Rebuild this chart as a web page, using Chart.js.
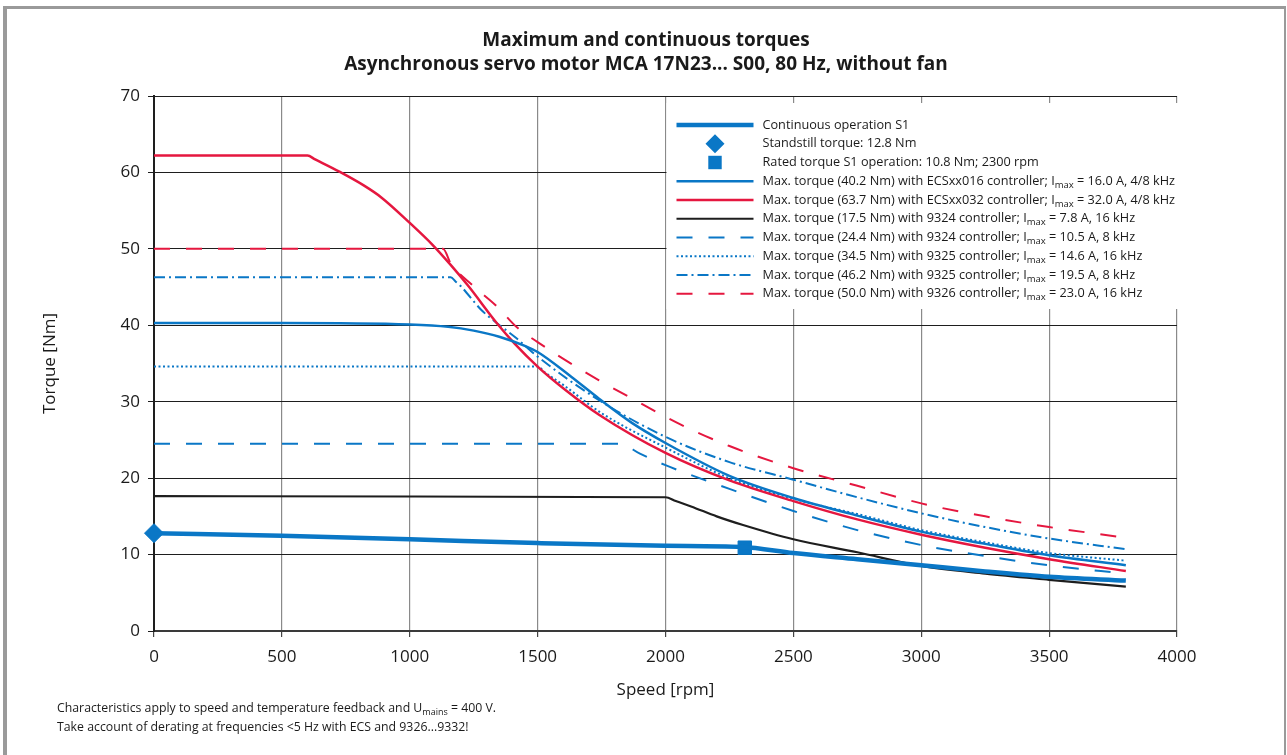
<!DOCTYPE html>
<html lang="en">
<head>
<meta charset="UTF-8"/>
<title>Maximum and continuous torques</title>
<script src="https://cdn.jsdelivr.net/npm/chart.js"></script>
<style>
  body { margin: 0; background: #fff; font-family: "Open Sans", Lato, sans-serif; color: #1a1a1a; }
  #page { position: relative; width: 1287px; height: 755px; overflow: hidden; }
  #frame { position: absolute; left: 3px; top: 6px; width: 1277px; height: 760px;
           border-top: 3px solid #9a9a9a; border-left: 4px solid #9a9a9a; border-right: 2px solid #9a9a9a; }
  #chartBox { position: absolute; left: 0; top: 0; width: 1287px; height: 755px; }
  #title { position: absolute; left: 0; top: 27px; width: 1292px; text-align: center;
           font-weight: bold; font-size: 19px; line-height: 24px; }
  #notes { position: absolute; left: 57px; top: 698px; font-size: 12.3px; line-height: 19px; }
  #notes sub { font-size: 9px; vertical-align: -3px; line-height: 0; }
</style>
<script>
  // speed [rpm] / torque [Nm]
  const rpmS1 = [0, 500, 1000, 1500, 2000, 2300, 2500, 2750, 3000, 3250, 3500, 3800];
  const torqueS1 = [12.8, 12.45, 12.0, 11.5, 11.15, 11.0, 10.2, 9.4, 8.6, 7.8, 7.1, 6.6];

  const rpmStandstill = [0];
  const torqueStandstill = [12.8];
  const rpmRated = [2310];
  const torqueRated = [10.9];

  const rpmEcs016 = [0, 500, 1000, 1150, 1250, 1350, 1450, 1500, 1630, 1740, 1870, 2000, 2250, 2500, 2750, 3000, 3250, 3500, 3800];
  const torqueEcs016 = [40.3, 40.3, 40.1, 39.8, 39.3, 38.5, 37.3, 36.5, 33.3, 30.4, 27.2, 24.6, 20.3, 17.4, 15.1, 13.0, 11.4, 9.9, 8.6];

  const rpmEcs032 = [0, 600, 630, 725, 820, 890, 1000, 1090, 1160, 1230, 1340, 1410, 1500, 1610, 1740, 2000, 2250, 2500, 2750, 3000, 3250, 3500, 3800];
  const torqueEcs032 = [62.2, 62.2, 61.7, 60.1, 58.3, 56.7, 53.4, 50.5, 47.9, 45.1, 40.3, 37.6, 34.6, 31.5, 28.3, 23.3, 19.7, 17.0, 14.6, 12.6, 10.9, 9.4, 7.85];

  const rpm9324a = [0, 1000, 2000, 2040, 2100, 2200, 2300, 2500, 2750, 3000, 3250, 3500, 3800];
  const torque9324a = [17.65, 17.6, 17.5, 17.0, 16.3, 15.0, 13.9, 12.0, 10.3, 8.5, 7.5, 6.7, 5.8];

  const rpm9324b = [0, 1820, 1900, 2000, 2250, 2500, 2750, 3000, 3250, 3500, 3800];
  const torque9324b = [24.5, 24.5, 23.2, 21.7, 18.6, 15.7, 13.2, 11.25, 9.8, 8.6, 7.5];

  const rpm9325a = [0, 1500, 1530, 1600, 1750, 2000, 2250, 2500, 2750, 3000, 3250, 3500, 3800];
  const torque9325a = [34.6, 34.6, 33.8, 32.2, 28.5, 24.0, 20.0, 17.3, 15.3, 13.2, 11.6, 10.2, 9.2];

  const rpm9325b = [0, 1160, 1180, 1200, 1280, 1340, 1410, 1500, 1740, 2000, 2250, 2500, 2750, 3000, 3250, 3500, 3800];
  const torque9325b = [46.3, 46.3, 45.7, 45.1, 42.0, 40.3, 38.5, 35.9, 30.2, 25.4, 22.1, 19.8, 17.5, 15.4, 13.6, 12.1, 10.7];

  const rpm9326 = [0, 1130, 1160, 1250, 1340, 1420, 1500, 1610, 1740, 1870, 2060, 2250, 2500, 2750, 3000, 3250, 3500, 3800];
  const torque9326 = [50.0, 50.0, 48.1, 45.1, 42.5, 39.7, 37.8, 35.4, 32.8, 30.4, 27.0, 24.2, 21.3, 19.0, 16.7, 15.0, 13.6, 12.2];

  const xTicks = [0, 500, 1000, 1500, 2000, 2500, 3000, 3500, 4000];
  const yTicks = [0, 10, 20, 30, 40, 50, 60, 70];

  // legend text: [before subscript, subscript, after]
  const legendLabels = [
    ["Continuous operation S1"],
    ["Standstill torque: 12.8 Nm"],
    ["Rated torque S1 operation: 10.8 Nm; 2300 rpm"],
    ["Max. torque (40.2 Nm) with ECSxx016 controller; I", "max", " = 16.0 A, 4/8 kHz"],
    ["Max. torque (63.7 Nm) with ECSxx032 controller; I", "max", " = 32.0 A, 4/8 kHz"],
    ["Max. torque (17.5 Nm) with 9324 controller; I", "max", " = 7.8 A, 16 kHz"],
    ["Max. torque (24.4 Nm) with 9324 controller; I", "max", " = 10.5 A, 8 kHz"],
    ["Max. torque (34.5 Nm) with 9325 controller; I", "max", " = 14.6 A, 16 kHz"],
    ["Max. torque (46.2 Nm) with 9325 controller; I", "max", " = 19.5 A, 8 kHz"],
    ["Max. torque (50.0 Nm) with 9326 controller; I", "max", " = 23.0 A, 16 kHz"]
  ];

  const BLUE = '#0a77c6';
  const RED = '#e5173f';
  const BLACK = '#1e1e1e';
  const FONT = '"Open Sans", Lato, sans-serif';

  function pts(xs, ys) {
    return xs.map((x, i) => ({ x: x, y: ys[i] }));
  }

  const legendBox = {
    id: 'legendBox',
    beforeDatasetsDraw(chart) {
      const ctx = chart.ctx;
      const area = chart.chartArea;
      const left = chart.scales.x.getPixelForValue(2000) + 1;
      ctx.save();
      ctx.fillStyle = '#fff';
      ctx.fillRect(left, area.top + 7, area.right + 3 - left, 206);
      ctx.restore();
    },
    afterDraw(chart) {
      const ctx = chart.ctx;
      const area = chart.chartArea;
      const x0 = chart.scales.x.getPixelForValue(2000) + 11;
      const x1 = x0 + 77;
      const tx = x0 + 86;
      ctx.save();
      chart.data.datasets.forEach((ds, i) => {
        const y = area.top + 29 + i * 18.75;
        if (ds.showLine === false) {
          ctx.fillStyle = ds.backgroundColor;
          const r = ds.pointRadius;
          ctx.beginPath();
          if (ds.pointStyle === 'rectRot') {
            ctx.moveTo((x0 + x1) / 2, y - r);
            ctx.lineTo((x0 + x1) / 2 + r, y);
            ctx.lineTo((x0 + x1) / 2, y + r);
            ctx.lineTo((x0 + x1) / 2 - r, y);
          } else {
            const s = r * Math.SQRT1_2;
            ctx.rect((x0 + x1) / 2 - s, y - s, 2 * s, 2 * s);
          }
          ctx.fill();
        } else {
          ctx.strokeStyle = ds.borderColor;
          ctx.lineWidth = ds.borderWidth;
          ctx.setLineDash(ds.borderDash || []);
          ctx.beginPath();
          ctx.moveTo(x0, y);
          ctx.lineTo(x1, y);
          ctx.stroke();
          ctx.setLineDash([]);
        }
        const parts = legendLabels[i];
        ctx.fillStyle = '#1a1a1a';
        ctx.textBaseline = 'middle';
        ctx.font = '12.7px ' + FONT;
        let x = tx;
        ctx.fillText(parts[0], x, y);
        if (parts.length > 1) {
          x += ctx.measureText(parts[0]).width;
          ctx.font = '9.5px ' + FONT;
          ctx.fillText(parts[1], x, y + 4);
          x += ctx.measureText(parts[1]).width;
          ctx.font = '12.7px ' + FONT;
          ctx.fillText(parts[2], x, y);
        }
      });
      ctx.restore();
    }
  };

  window.addEventListener("load", function() {
    const ctx = document.getElementById("torqueChart").getContext("2d");
    new Chart(ctx, {
      type: 'line',
      data: {
        datasets: [
          { data: pts(rpmS1, torqueS1), borderColor: BLUE, borderWidth: 4.5 },
          { data: pts(rpmStandstill, torqueStandstill), showLine: false, pointStyle: 'rectRot', pointRadius: 9.5,
            backgroundColor: BLUE, borderColor: BLUE, clip: false },
          { data: pts(rpmRated, torqueRated), showLine: false, pointStyle: 'rect', pointRadius: 9.5,
            backgroundColor: BLUE, borderColor: BLUE, clip: false },
          { data: pts(rpmEcs016, torqueEcs016), borderColor: BLUE, borderWidth: 2.5 },
          { data: pts(rpmEcs032, torqueEcs032), borderColor: RED, borderWidth: 2.5 },
          { data: pts(rpm9324a, torque9324a), borderColor: BLACK, borderWidth: 2.2 },
          { data: pts(rpm9324b, torque9324b), borderColor: BLUE, borderWidth: 2, borderDash: [16, 16] },
          { data: pts(rpm9325a, torque9325a), borderColor: BLUE, borderWidth: 2, borderDash: [2, 2.5] },
          { data: pts(rpm9325b, torque9325b), borderColor: BLUE, borderWidth: 2, borderDash: [11, 4, 2, 4] },
          { data: pts(rpm9326, torque9326), borderColor: RED, borderWidth: 2, borderDash: [16, 16] }
        ]
      },
      options: {
        responsive: true,
        maintainAspectRatio: false,
        animation: false,
        events: [],
        layout: { padding: { left: 0, top: 96, right: 110, bottom: 0 } },
        elements: {
          line: { tension: 0, cubicInterpolationMode: 'monotone', fill: false },
          point: { radius: 0 }
        },
        plugins: { legend: { display: false }, title: { display: false }, tooltip: { enabled: false } },
        scales: {
          x: {
            type: 'linear', min: 0, max: 4000,
            afterFit(scale) { scale.height = 124; },
            afterBuildTicks(scale) { scale.ticks = xTicks.map(v => ({ value: v })); },
            grid: { color: '#8a8a8a', lineWidth: 1.2, tickLength: 6, tickColor: '#444' },
            border: { color: '#3a3a3a', width: 2 },
            ticks: { padding: 10, color: '#1a1a1a', font: { family: FONT, size: 17 },
                     callback: v => String(v) },
            title: { display: true, text: 'Speed [rpm]', color: '#1a1a1a', padding: { bottom: 55 },
                     font: { family: FONT, size: 17 } }
          },
          y: {
            min: 0, max: 70,
            afterFit(scale) { scale.width = 154; },
            afterBuildTicks(scale) { scale.ticks = yTicks.map(v => ({ value: v })); },
            grid: { color: '#1e1e1e', lineWidth: 1, tickLength: 6, tickColor: '#1e1e1e' },
            border: { color: '#1e1e1e', width: 2 },
            ticks: { padding: 8, color: '#1a1a1a', font: { family: FONT, size: 17 },
                     callback: v => String(v) },
            title: { display: true, text: 'Torque [Nm]', color: '#1a1a1a', padding: { top: 40 },
                     font: { family: FONT, size: 17 } }
          }
        }
      },
      plugins: [legendBox]
    });
  }, false);
</script>
</head>
<body>
  <div id="page">
    <div id="frame"></div>
    <div id="chartBox"><canvas id="torqueChart"></canvas></div>
    <div id="title">Maximum and continuous torques<br>Asynchronous servo motor MCA 17N23... S00, 80 Hz, without fan</div>
    <div id="notes">Characteristics apply to speed and temperature feedback and U<sub>mains</sub> = 400 V.<br>Take account of derating at frequencies &lt;5 Hz with ECS and 9326...9332!</div>
  </div>
</body>
</html>
